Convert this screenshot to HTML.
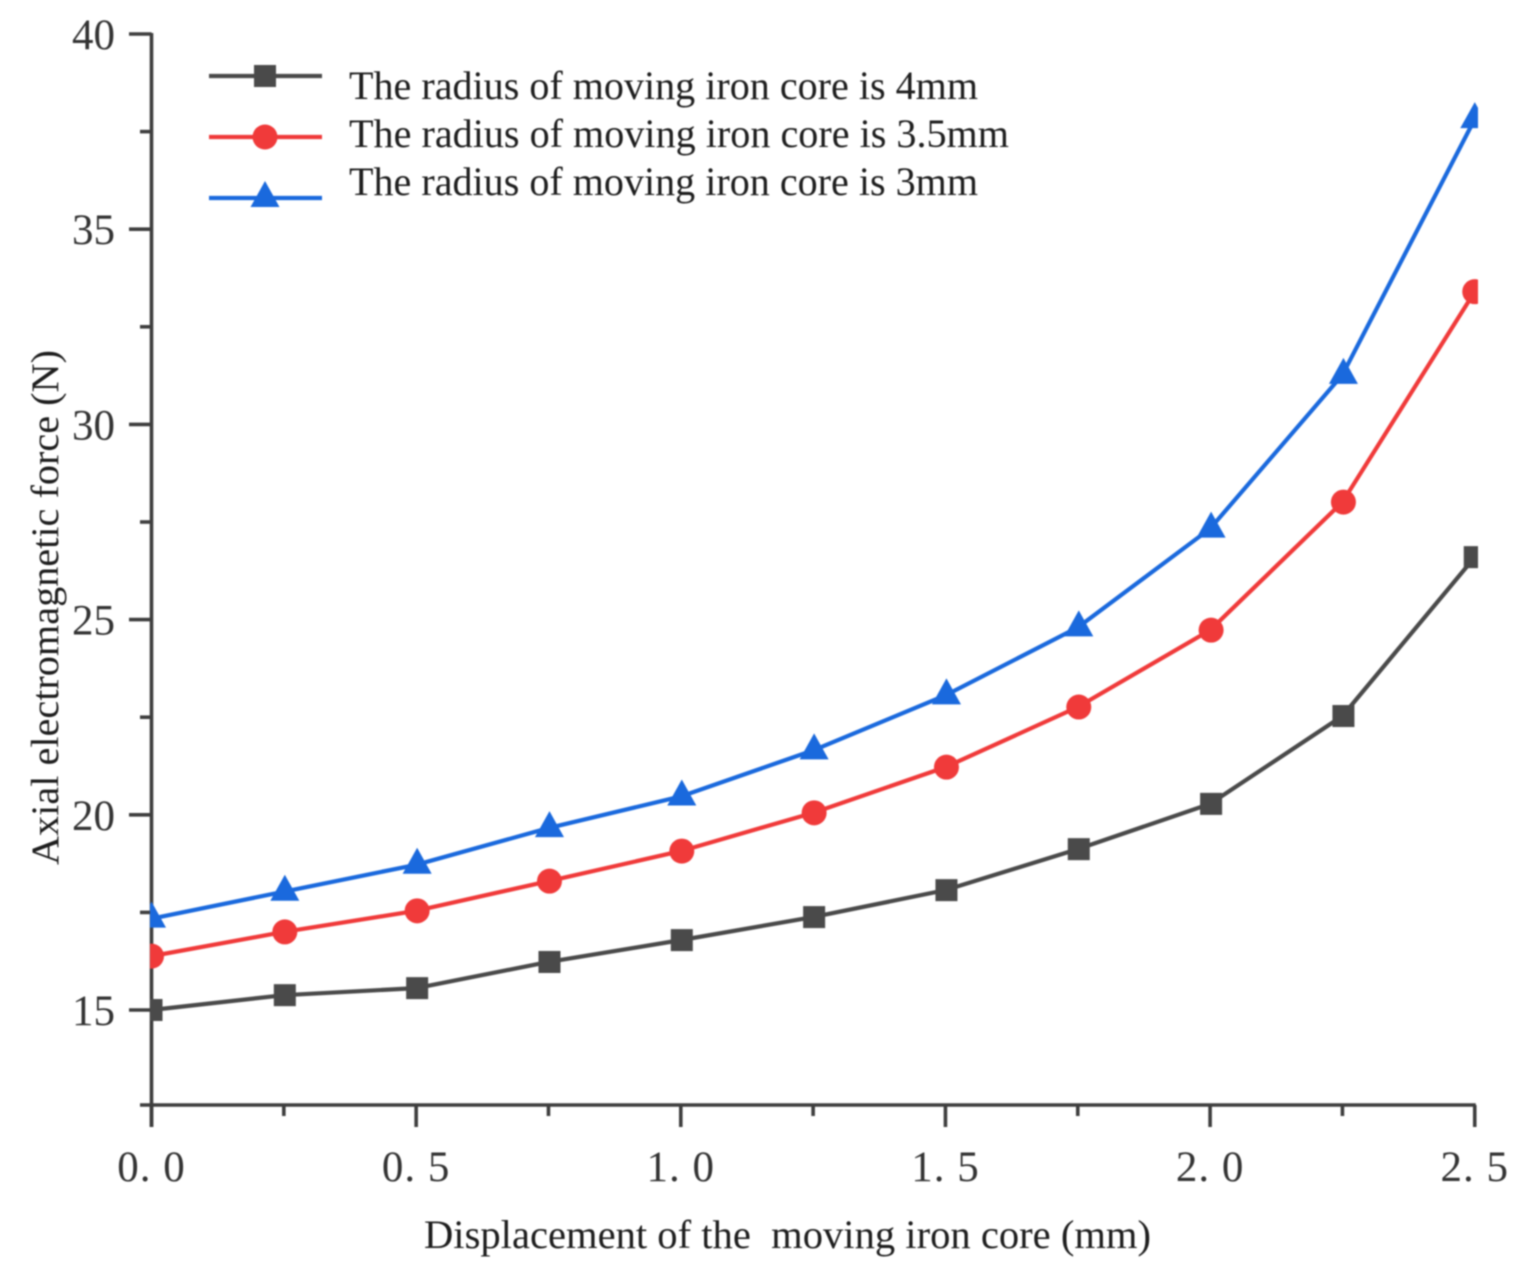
<!DOCTYPE html>
<html>
<head>
<meta charset="utf-8">
<title>Axial electromagnetic force vs displacement</title>
<style>
html,body{margin:0;padding:0;background:#fff;width:1530px;height:1280px;overflow:hidden}
svg{display:block;filter:blur(0.7px)}
text{font-family:"Liberation Serif",serif;fill:#333}
text.dark{fill:#1e1e1e}
</style>
</head>
<body>
<svg id="chart" xmlns="http://www.w3.org/2000/svg" width="1530" height="1280" viewBox="0 0 1530 1280">
  <defs>
    <clipPath id="plot-clip"><rect x="150" y="20" width="1328" height="1100"/></clipPath>
  </defs>
  <g id="axes"></g>
  <g id="series" clip-path="url(#plot-clip)"></g>
  <g id="legend"></g>
  <text class="dark" x="424" y="1248" font-size="40" xml:space="preserve" style="white-space:pre" textLength="727" lengthAdjust="spacingAndGlyphs">Displacement of the  moving iron core (mm)</text>
  <text class="dark" transform="translate(58,865) rotate(-90)" font-size="39" textLength="515" lengthAdjust="spacingAndGlyphs">Axial electromagnetic force (N)</text>
</svg>
<script>
const displacement = [0, 0.25, 0.5, 0.75, 1.0, 1.25, 1.5, 1.75, 2.0, 2.25, 2.5];
const radius4mm = [15.0, 15.38, 15.56, 16.23, 16.79, 17.38, 18.07, 19.12, 20.28, 22.53, 26.6];
const radius35mm = [16.38, 17.0, 17.54, 18.3, 19.07, 20.05, 21.22, 22.76, 24.73, 28.01, 33.4];
const radius3mm = [17.34, 18.03, 18.72, 19.66, 20.47, 21.65, 23.06, 24.8, 27.33, 31.27, 37.82];
const xMajorTicks = [0, 0.5, 1.0, 1.5, 2.0, 2.5];
const xMinorTicks = [0.25, 0.75, 1.25, 1.75, 2.25];
const yMajorTicks = [15, 20, 25, 30, 35, 40];
const yMinorTicks = [17.5, 22.5, 27.5, 32.5, 37.5];
const legendLabels = ['The radius of moving iron core is 4mm', 'The radius of moving iron core is 3.5mm', 'The radius of moving iron core is 3mm'];

const NS = 'http://www.w3.org/2000/svg';
const AXIS = '#3e3e3e';
const BLACK = '#4a4a4a', RED = '#f03a3a', BLUE = '#1a69dd';
const xScale = v => 151.5 + v * 529.3;
const yScale = v => 1010 - (v - 15) * 39.04;
const baseY = 1105;
const AXIS_W = 3.6;

function el(tag, attrs, parent) {
  const e = document.createElementNS(NS, tag);
  for (const k in attrs) e.setAttribute(k, attrs[k]);
  parent.appendChild(e);
  return e;
}

const axes = document.getElementById('axes');
const yLine = el('line', {x1: xScale(0), x2: xScale(0), y1: yScale(40) - 1, y2: 1127, stroke: AXIS, 'stroke-width': AXIS_W}, axes);


const xLine = el('line', {x1: 140, x2: xScale(2.5) + 1, y1: baseY, y2: baseY, stroke: AXIS, 'stroke-width': AXIS_W}, axes);



yMajorTicks.forEach(v => {
  const t = el('line', {x1: 129, x2: xScale(0), y1: yScale(v), y2: yScale(v), stroke: AXIS, 'stroke-width': AXIS_W}, axes);
  
  
  const l = el('text', {x: 115, y: yScale(v) + 15, 'text-anchor': 'end', 'font-size': 43}, axes);
  
  
  l.textContent = String(v);
});
yMinorTicks.forEach(v => {
  const t = el('line', {x1: 140, x2: xScale(0), y1: yScale(v), y2: yScale(v), stroke: AXIS, 'stroke-width': AXIS_W}, axes);
  
  
});
xMajorTicks.forEach(v => {
  const t = el('line', {x1: xScale(v), x2: xScale(v), y1: baseY, y2: 1127, stroke: AXIS, 'stroke-width': AXIS_W}, axes);
  
  
  const l = el('text', {x: xScale(v), y: 1181, 'text-anchor': 'middle', 'font-size': 43, 'letter-spacing': 1}, axes);
  
  
  l.textContent = v.toFixed(1).replace('.', '. ');
});
xMinorTicks.forEach(v => {
  const t = el('line', {x1: xScale(v), x2: xScale(v), y1: baseY, y2: 1116, stroke: AXIS, 'stroke-width': AXIS_W}, axes);
  
  
});

function marker(kind, cx, cy, color, parent) {
  if (kind === 'square') return el('rect', {x: cx - 11, y: cy - 11, width: 22, height: 22, fill: color}, parent);
  if (kind === 'circle') return el('circle', {cx: cx, cy: cy, r: 12.5, fill: color}, parent);
  return el('polygon', {points: [cx, cy - 17, cx + 14.5, cy + 9, cx - 14.5, cy + 9].reduce((s, n, i) => s + n + (i % 2 ? ' ' : ','), ''), fill: color}, parent);
}

const seriesGroup = document.getElementById('series');
function drawSeries(values, color, kind, name) {
  const g = el('g', {}, seriesGroup);
  
  
  const pts = values.map((v, i) => xScale(displacement[i]) + ',' + yScale(v)).join(' ');
  const line = el('polyline', {points: pts, fill: 'none', stroke: color, 'stroke-width': 4.2}, g);
  
  
  values.forEach((v, i) => {
    const m = marker(kind, xScale(displacement[i]) + (i > 0 && i < values.length - 1 ? 1 : 0), yScale(v), color, g);
    
    
  });
}
drawSeries(radius4mm, BLACK, 'square', 'series-radius-4mm');
drawSeries(radius35mm, RED, 'circle', 'series-radius-3-5mm');
drawSeries(radius3mm, BLUE, 'triangle', 'series-radius-3mm');

const legend = document.getElementById('legend');
const legendColors = [BLACK, RED, BLUE];
const legendKinds = ['square', 'circle', 'triangle'];
const legendLineY = [76, 137, 198];
const legendTextY = [99, 147, 195];
const legendWidths = [629, 660, 629];
legendLabels.forEach((label, i) => {
  const g = el('g', {}, legend);
  
  
  const s = el('line', {x1: 209, x2: 322, y1: legendLineY[i], y2: legendLineY[i], stroke: legendColors[i], 'stroke-width': 4.2}, g);
  
  
  const m = marker(legendKinds[i], 265, legendLineY[i], legendColors[i], g);
  
  
  const t = el('text', {x: 349, y: legendTextY[i], class: 'dark', 'font-size': 40, textLength: legendWidths[i], lengthAdjust: 'spacingAndGlyphs'}, g);
  
  
  t.textContent = label;
});
</script>
</body>
</html>
